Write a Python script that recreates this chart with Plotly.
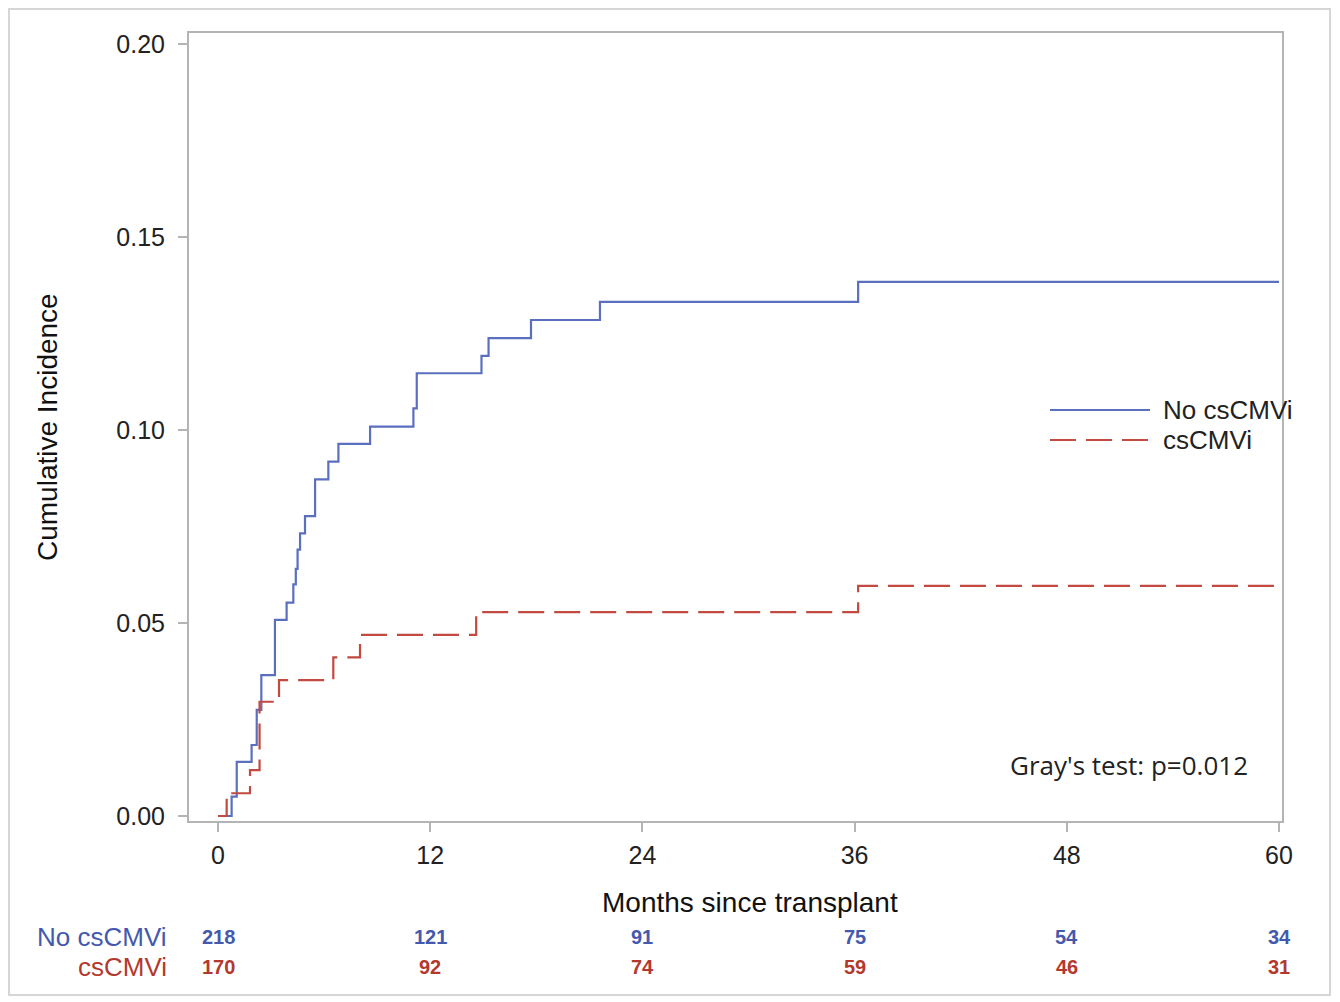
import plotly.graph_objects as go

# ---- data ----
no_cs_t = [0, 0.77, 1.06, 1.9, 2.19, 2.45, 3.22, 3.88, 4.26, 4.4, 4.5, 4.64, 4.92, 5.49, 6.24,
           6.81, 8.6, 11.05, 11.24, 14.9, 15.3, 17.7, 21.6, 36.2, 60]
no_cs_y = [0, 0.005, 0.014, 0.0184, 0.0275, 0.0365, 0.0508, 0.0553, 0.060, 0.064, 0.069, 0.0732,
           0.0777, 0.0872, 0.0918, 0.0964, 0.1009, 0.1056, 0.1147, 0.1192, 0.1238, 0.1285,
           0.1332, 0.1384, 0.1384]
cs_t = [0, 0.49, 1.81, 2.35, 3.45, 6.52, 8.03, 14.6, 36.2, 60]
cs_y = [0, 0.0059, 0.0119, 0.0296, 0.0352, 0.0411, 0.0469, 0.0528, 0.0596, 0.0596]

x_ticks = [0, 12, 24, 36, 48, 60]
y_ticks = [0.00, 0.05, 0.10, 0.15, 0.20]
y_tick_labels = ["0.00", "0.05", "0.10", "0.15", "0.20"]
risk_no_cs = [218, 121, 91, 75, 54, 34]
risk_cs = [170, 92, 74, 59, 46, 31]
group_names = ["No csCMVi", "csCMVi"]

BLUE = "#5b6fbf"
RED = "#c24a40"
BLUE_TXT = "#4459ad"
RED_TXT = "#b3392e"
AX = "#b4b4b4"
FONT = "Liberation Sans, Arial, sans-serif"

# the page body adds an 8px margin; work in screen pixels and subtract it
OFF = 8
FW, FH = 1340 - OFF, 1002 - OFF

fig = go.Figure()
fig.add_trace(go.Scatter(x=no_cs_t, y=no_cs_y, mode="lines", line_shape="hv",
                         line=dict(color=BLUE, width=2.2), name=group_names[0], showlegend=False))
fig.add_trace(go.Scatter(x=cs_t, y=cs_y, mode="lines", line_shape="hv",
                         line=dict(color=RED, width=2.2, dash="26px,10px"), name=group_names[1],
                         showlegend=False))

# plot area in screen pixels: x 189..1282, y 33..821
L, R, T, B = 189, 1282, 33, 821
W, H = R - L, B - T

def px(xp):
    return (xp - L) / W

def py(yp):
    return (B - yp) / H

annotations = []
# risk table
for i, t in enumerate(x_ticks):
    annotations.append(dict(x=t, y=py(937), xref="x", yref="paper", text=f"<b>{risk_no_cs[i]}</b>",
                            showarrow=False, font=dict(family=FONT, size=20, color=BLUE_TXT),
                            xanchor="center", yanchor="middle"))
    annotations.append(dict(x=t, y=py(967), xref="x", yref="paper", text=f"<b>{risk_cs[i]}</b>",
                            showarrow=False, font=dict(family=FONT, size=20, color=RED_TXT),
                            xanchor="center", yanchor="middle"))
annotations.append(dict(x=px(169), y=py(937), xref="paper", yref="paper", text=group_names[0],
                        showarrow=False, font=dict(family=FONT, size=26, color=BLUE_TXT),
                        xanchor="right", yanchor="middle"))
annotations.append(dict(x=px(169), y=py(967), xref="paper", yref="paper", text=group_names[1],
                        showarrow=False, font=dict(family=FONT, size=26, color=RED_TXT),
                        xanchor="right", yanchor="middle"))
# axis titles
annotations.append(dict(x=px(750), y=py(903), xref="paper", yref="paper", text="Months since transplant",
                        showarrow=False, font=dict(family=FONT, size=28, color="#111"),
                        xanchor="center", yanchor="middle"))
annotations.append(dict(x=px(47), y=py(427), xref="paper", yref="paper", text="Cumulative Incidence",
                        showarrow=False, textangle=-90, font=dict(family=FONT, size=28, color="#111"),
                        xanchor="center", yanchor="middle"))
# legend text
annotations.append(dict(x=px(1161), y=py(410), xref="paper", yref="paper", text=group_names[0],
                        showarrow=False, font=dict(family=FONT, size=26, color="#222"),
                        xanchor="left", yanchor="middle"))
annotations.append(dict(x=px(1161), y=py(440), xref="paper", yref="paper", text=group_names[1],
                        showarrow=False, font=dict(family=FONT, size=26, color="#222"),
                        xanchor="left", yanchor="middle"))
# Gray's test
annotations.append(dict(x=px(1129), y=py(765), xref="paper", yref="paper", text="Gray's test: p=0.012",
                        showarrow=False, font=dict(family="Open Sans, sans-serif", size=26, color="#222"),
                        xanchor="center", yanchor="middle"))

shapes = [
    dict(type="line", xref="paper", yref="paper", x0=px(1050), x1=px(1150), y0=py(410), y1=py(410),
         line=dict(color=BLUE, width=2.2)),
    dict(type="line", xref="paper", yref="paper", x0=px(1050), x1=px(1150), y0=py(440), y1=py(440),
         line=dict(color=RED, width=2.2, dash="26px,10px")),
    dict(type="rect", xref="paper", yref="paper", x0=px(9), x1=px(1330), y0=py(995), y1=py(9),
         line=dict(color="#d6d6d6", width=2), layer="below"),
]

xr0 = (L - 218) / ((1279 - 218) / 60)
xr1 = (R - 218) / ((1279 - 218) / 60)
yscale = (816 - 44) / 0.20
yr0 = (816 - B) / yscale
yr1 = (816 - T) / yscale

fig.update_layout(
    width=FW, height=FH,
    margin=dict(l=L - OFF, r=1340 - R, t=T - OFF, b=1002 - B),
    paper_bgcolor="white", plot_bgcolor="white",
    showlegend=False,
    font=dict(family=FONT, color="#222"),
    annotations=annotations,
    shapes=shapes,
    xaxis=dict(range=[xr0, xr1], tickvals=x_ticks, ticktext=[str(v) for v in x_ticks],
               showgrid=False, zeroline=False, showline=True, linecolor=AX, linewidth=2, mirror=True,
               ticks="outside", ticklen=9, tickwidth=2, tickcolor=AX,
               tickfont=dict(family=FONT, size=25, color="#222"), ticklabelstandoff=2),
    yaxis=dict(range=[yr0, yr1], tickvals=y_ticks, ticktext=y_tick_labels,
               showgrid=False, zeroline=False, showline=True, linecolor=AX, linewidth=2, mirror=True,
               ticks="outside", ticklen=9, tickwidth=2, tickcolor=AX,
               tickfont=dict(family=FONT, size=25, color="#222"), ticklabelstandoff=8),
)

fig.write_html("out.html")
